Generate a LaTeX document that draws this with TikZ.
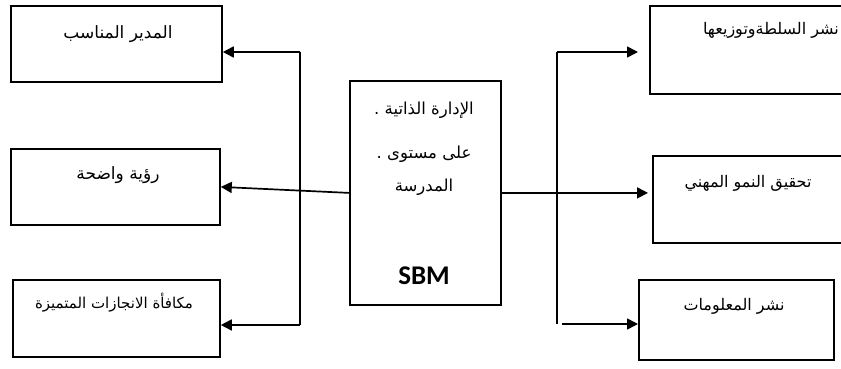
\documentclass[tikz,border=0pt]{standalone}
\usepackage{fontspec}
\newfontfamily\arabicfont[Script=Arabic]{DejaVu Sans}
\newfontfamily\sbmfont{Carlito}
\TeXXeTstate=1
\usetikzlibrary{arrows.meta}

\begin{document}
\begin{tikzpicture}[
  x=1pt, y=-1pt,
  box/.style={draw, line width=1.8pt, inner sep=0pt, anchor=north west},
  txt/.style={font=\arabicfont\fontsize{17}{20}\selectfont, inner sep=0pt},
  rtxt/.style={font=\arabicfont\fontsize{16}{19}\selectfont, inner sep=0pt},
  midtxt/.style={font=\arabicfont\fontsize{16.5}{20}\selectfont, inner sep=0pt},
  line/.style={line width=1.7pt},
  edge/.style={line, -{Triangle[length=11pt, width=11pt]}}
]
\useasboundingbox (0,0) rectangle (841,369);

% the school box in the middle
\node[box, minimum width=151pt, minimum height=224pt] (sbm) at (349,80) {};
\node[midtxt] (sbm1) at (424,110) {\beginR الإدارة الذاتية .\endR};
\node[midtxt] (sbm2) at (424,154) {\beginR على مستوى .\endR};
\node[midtxt] (sbm3) at (424,187) {\beginR المدرسة\endR};
\node[font=\sbmfont\bfseries\fontsize{27}{30}\selectfont, inner sep=0pt] (sbm4) at (424,276) {SBM};

% left column
\node[box, minimum width=211pt, minimum height=76pt] (mudir) at (10,5) {};
\node[txt] (mudirt) at (118,34) {\beginR المدير المناسب\endR};
\node[box, minimum width=209pt, minimum height=76pt] (ruya) at (10,148) {};
\node[txt] (ruyat) at (118,175) {\beginR رؤية  واضحة\endR};
\node[box, minimum width=207pt, minimum height=77pt] (mukafaa) at (12,279) {};
\node[txt, font=\arabicfont\fontsize{15}{18}\selectfont] (mukafaat) at (114,303) {\beginR مكافأة الانجازات المتميزة\endR};

% right column
\node[box, minimum width=246pt, minimum height=88pt] (sulta) at (649,5) {};
\node[rtxt] (sultat) at (771,30) {\beginR نشر السلطةوتوزيعها\endR};
\node[box, minimum width=194pt, minimum height=87pt] (tahqiq) at (652,155) {};
\node[rtxt] (tahqiqt) at (748,183) {\beginR تحقيق النمو المهني\endR};
\node[box, minimum width=195pt, minimum height=80pt] (nashr) at (638,279) {};
\node[rtxt] (nashrt) at (734,306) {\beginR نشر المعلومات\endR};

% left connectors
\coordinate (lt) at (300,52);
\coordinate (lb) at (300,325);
\draw[line] (lt) -- (lb);
\draw[edge] (lt) -- (lt -| mudir.east);
\draw[edge] (lb) -- (lb -| mukafaa.east);
\draw[edge] (sbm.west) -- (ruya.east);

% right connectors
\coordinate (rt) at (557,52);
\coordinate (rb) at (557,324);
\coordinate (rtend) at (638,52);
\draw[line] (rt) -- (rb);
\draw[edge] (rt) -- (rtend);
\draw[edge, shorten >=4pt] (sbm.east) -- (sbm.east -| tahqiq.west);
\draw[edge] ([xshift=5pt]rb) -- (rb -| nashr.west);
\end{tikzpicture}
\end{document}
